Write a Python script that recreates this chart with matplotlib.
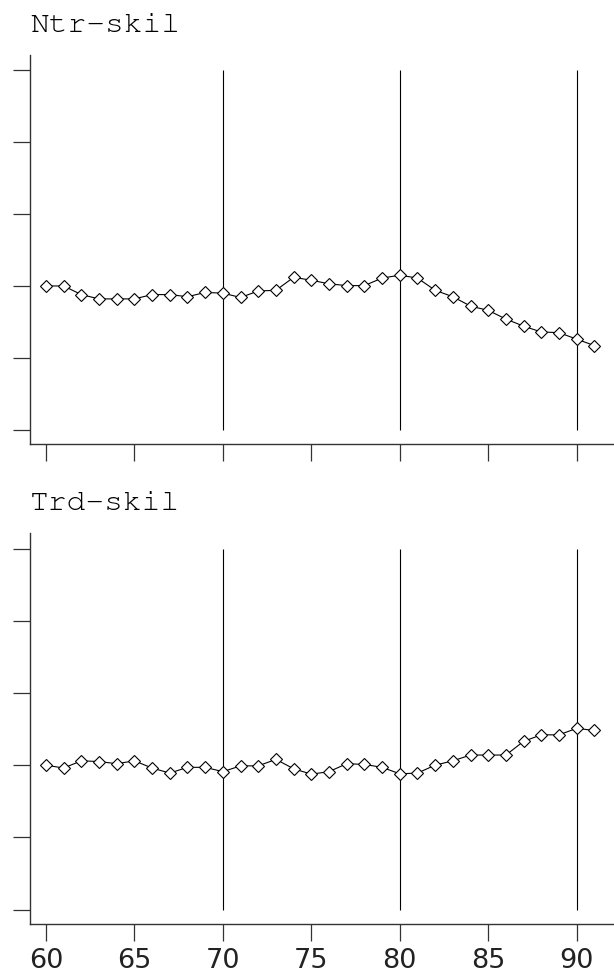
import numpy as np
import matplotlib.pyplot as plt
from matplotlib import font_manager

# ----------------------------------
# Data (index, 1960 = 100)
# ----------------------------------

years = np.arange(60, 92)

ntr_skil = [100.0, 100.0, 98.8, 98.2, 98.2, 98.2, 98.8, 98.8, 98.5, 99.1,
            99.0, 98.4, 99.3, 99.4, 101.2, 100.8, 100.3, 100.05, 100.05, 101.1,
            101.5, 101.1, 99.4, 98.5, 97.2, 96.6, 95.4, 94.4, 93.6, 93.5,
            92.6, 91.7]

trd_skil = [100.0, 99.6, 100.6, 100.5, 100.2, 100.6, 99.6, 98.9, 99.7, 99.7,
            99.1, 99.9, 99.9, 100.8, 99.5, 98.75, 99.1, 100.2, 100.1, 99.7,
            98.8, 98.9, 100.0, 100.6, 101.4, 101.4, 101.4, 103.3, 104.2, 104.2,
            105.1, 104.8]

titles = ['Ntr-skil', 'Trd-skil']
x_ticks = [60, 65, 70, 75, 80, 85, 90]
y_ticks = [80, 90, 100, 110, 120, 130]
ref_years = [70, 80, 90]


def mono_font(size=22.5):
    """Courier-like font for the panel titles, found by file name."""
    wanted = ['freemono.ttf', 'courierprime-regular.ttf', 'liberationmono-regular.ttf']
    files = {f.split('/')[-1].lower(): f for f in font_manager.findSystemFonts()}
    for w in wanted:
        if w in files:
            return font_manager.FontProperties(fname=files[w], size=size)
    return font_manager.FontProperties(family='monospace', size=size)


# ----------------------------------
# Plot
# ----------------------------------

fig = plt.figure(figsize=(6.14, 9.72), dpi=100)
title_font = mono_font()

# axes rectangles, in figure fractions
panels = [
    ([0.0489, 0.5432, 0.9511, 0.4002], 0.967),
    ([0.0489, 0.0494, 0.9511, 0.4022], 0.4753),
]

for (rect, title_y), series, title, last in zip(panels, [ntr_skil, trd_skil], titles, [False, True]):
    ax = fig.add_axes(rect)

    ax.vlines(ref_years, y_ticks[0], y_ticks[-1], color='black', linewidth=0.8)
    ax.plot(years, series, color='black', linewidth=0.8,
            marker='D', markersize=6.0, markerfacecolor='white',
            markeredgecolor='black', markeredgewidth=0.8)

    ax.set_xlim(59.1, 92.11)
    ax.set_ylim(78.0, 132.15)

    for side in ['top', 'right']:
        ax.spines[side].set_visible(False)
    for side in ['left', 'bottom']:
        ax.spines[side].set_linewidth(1.0)
        ax.spines[side].set_color('#333333')

    ax.set_xticks(x_ticks)
    ax.set_yticks(y_ticks)
    ax.set_yticklabels([])
    ax.tick_params(axis='both', direction='out', length=12, width=0.9, color='#333333')
    if last:
        ax.set_xticklabels([str(t) for t in x_ticks], fontsize=19.5, family='DejaVu Sans',
                           color='#222222')
        ax.tick_params(axis='x', pad=5)
    else:
        ax.set_xticklabels([])

    fig.text(0.0489, title_y, title, fontproperties=title_font,
             ha='left', va='baseline')

fig.savefig('out.png', dpi=100)
